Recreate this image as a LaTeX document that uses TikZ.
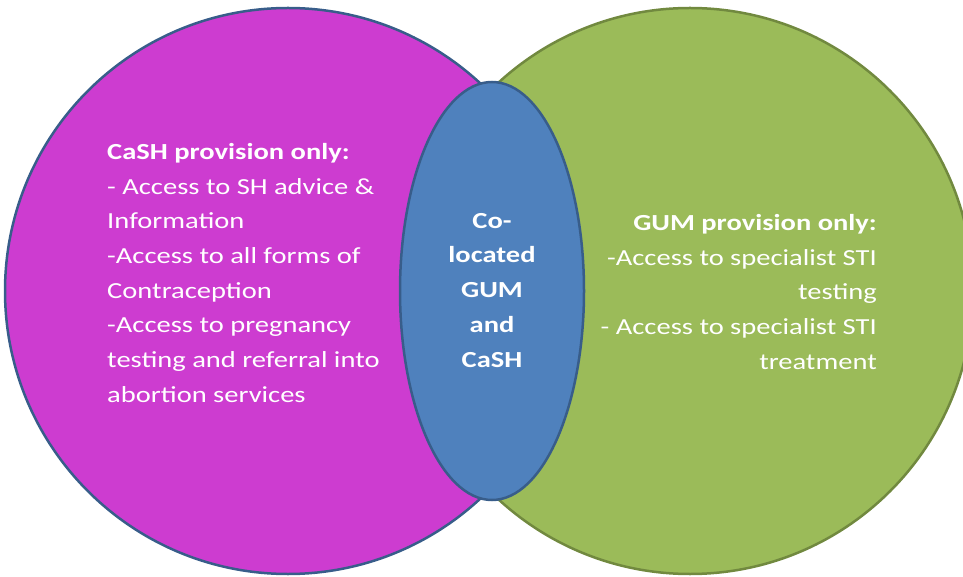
\documentclass[tikz,border=0pt]{standalone}
\usepackage{fontspec}
\setmainfont{Carlito}
\usetikzlibrary{positioning}
\usepackage{xcolor}
\definecolor{cashpink}{RGB}{205,60,208}
\definecolor{gumgreen}{RGB}{155,187,89}
\definecolor{bothblue}{RGB}{79,129,189}
\definecolor{blueline}{RGB}{56,93,138}
\definecolor{greenline}{RGB}{113,137,63}

\begin{document}
\begin{tikzpicture}[x=1pt,y=1pt]
\tikzset{venntext/.style={text=white, inner sep=0pt, xscale=1.24, font=\fontsize{23}{34.7}\selectfont}}

\useasboundingbox (0,0) rectangle (963,576);

\draw[fill=cashpink, draw=blueline, line width=2.5pt] (288,285) circle [radius=283];
\draw[fill=gumgreen, draw=greenline, line width=2.5pt] (690,285) circle [radius=283];
\draw[fill=bothblue, draw=blueline, line width=2.5pt] (492,285) ellipse [x radius=92, y radius=209];

\node[venntext, anchor=north west, align=left] (cashtext) at (107,433) {\textbf{CaSH provision only:}\\- Access to SH advice \&\\Information\\-Access to all forms of\\Contraception\\-Access to pregnancy\\testing and referral into\\abortion services};

\node[venntext, anchor=north, align=center, font=\fontsize{23}{34.7}\selectfont\bfseries] (bothtext) at (492,363) {Co-\\located\\GUM\\and\\CaSH};

\node[venntext, anchor=north east, align=right] (gumtext) at (877,362) {\textbf{GUM provision only:}\\-Access to specialist STI\\testing\\- Access to specialist STI\\treatment};

\end{tikzpicture}
\end{document}
